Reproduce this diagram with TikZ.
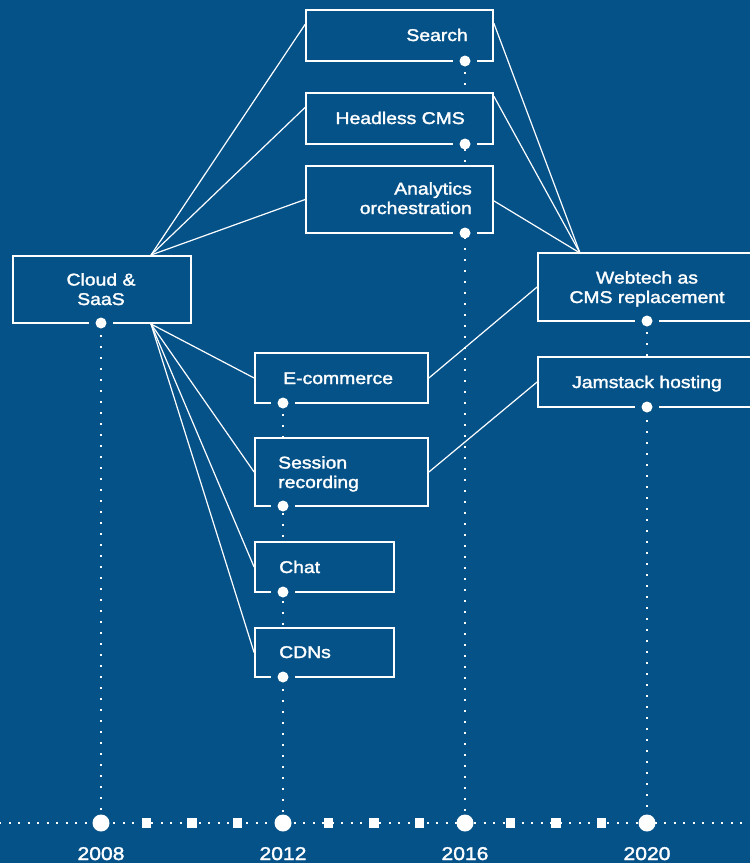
\documentclass[tikz,border=0pt]{standalone}
\usepackage{fontspec}
\setmainfont{Liberation Sans}[FakeStretch=1.14, FakeBold=1.8]
\usetikzlibrary{calc}
\definecolor{bgblue}{RGB}{5,82,137}

\tikzset{
  tbox/.style={draw=white, fill=bgblue, line width=1.8pt, inner sep=0pt},
  gapcover/.style={fill=bgblue},
  pin/.style={circle, fill=white, minimum size=11pt, inner sep=0pt},
  bigdot/.style={circle, fill=white, minimum size=17pt, inner sep=0pt},
  tsq/.style={rectangle, fill=white, minimum size=9.5pt, inner sep=0pt},
  link/.style={white, line width=1.2pt},
  vdots/.style={white, line width=2pt, dash pattern=on 2pt off 9pt},
  hdots/.style={white, line width=2pt, dash pattern=on 2pt off 7.5pt},
  label/.style={white, inner sep=0pt, font=\fontsize{17}{19.5}\selectfont},
  year/.style={white, inner sep=0pt, font=\fontsize{18.5}{20}\selectfont}
}

% box: name, x1, y1, x2, y2, pin x  (the bottom edge is broken around the pin)
\newcommand\tlbox[6]{%
  \node[tbox, minimum width={#4-#2}, minimum height={#5-#3}] (#1) at ({(#2+#4)/2},{(#3+#5)/2}) {};
  \fill[gapcover] ({#6-12},{#5-2}) rectangle ({#6+12},{#5+2});
  \node[pin] (#1pin) at (#6,#5) {};
}

\begin{document}
\begin{tikzpicture}[x=1pt, y=-1pt]
  \useasboundingbox (0,0) rectangle (750,863);
  \clip (0,0) rectangle (750,863);
  \fill[bgblue] (0,0) rectangle (750,863);

  % timeline markers
  \draw[hdots] (-1,823) -- (751,823);
  \node[bigdot] (t2008) at (101,823) {};
  \node[bigdot] (t2012) at (283,823) {};
  \node[bigdot] (t2016) at (465,823) {};
  \node[bigdot] (t2020) at (647,823) {};
  \foreach \k in {1,2,3} {
    \node[tsq] (qa\k) at ({101+\k*45.5},823) {};
    \node[tsq] (qb\k) at ({283+\k*45.5},823) {};
    \node[tsq] (qc\k) at ({465+\k*45.5},823) {};
  }

  % hubs where the links meet
  \coordinate (hubtop) at (151,255);
  \coordinate (hubbot) at (151,324);
  \coordinate (hubright) at (580,253);

  % vertical guides from each column down to its year
  \draw[vdots] (101,324) -- (t2008);
  \draw[vdots] (283,403) -- (t2012);
  \draw[vdots] (465,61) -- (t2016);
  \draw[vdots] (647,321) -- (t2020);

  % boxes
  \tlbox{search}{306}{10}{493}{61}{465}
  \tlbox{headless}{306}{93}{493}{144}{465}
  \tlbox{analytics}{306}{166}{493}{233}{465}
  \tlbox{cloud}{13}{256}{191}{323}{101}
  \tlbox{webtech}{538}{253}{753}{321}{647}
  \tlbox{jamstack}{538}{357}{753}{407}{647}
  \tlbox{ecom}{255}{353}{428}{403}{283}
  \tlbox{session}{255}{438}{428}{506}{283}
  \tlbox{chat}{255}{542}{394}{592}{283}
  \tlbox{cdns}{255}{628}{394}{677}{283}

  % links
  \draw[link] (hubtop) -- ($(search.north west)!0.29!(search.south west)$);
  \draw[link] (hubtop) -- ($(headless.north west)!0.29!(headless.south west)$);
  \draw[link] (hubtop) -- (analytics.west);
  \draw[link] (hubbot) -- (ecom.west);
  \draw[link] (hubbot) -- (session.west);
  \draw[link] (hubbot) -- (chat.west);
  \draw[link] (hubbot) -- (cdns.west);
  \draw[link] ($(search.north east)!0.27!(search.south east)$) -- (hubright);
  \draw[link] ($(headless.north east)!0.08!(headless.south east)$) -- (hubright);
  \draw[link] ($(analytics.north east)!0.52!(analytics.south east)$) -- (hubright);
  \draw[link] (ecom.east) -- (webtech.west);
  \draw[link] (session.east) -- (jamstack.west);

  % labels (multi-line labels are anchored on the baseline of their last line)
  \node[label, anchor=base east] (searchtxt) at (468,41) {Search};
  \node[label, anchor=base east] (headlesstxt) at (465,124) {Headless CMS};
  \node[label, anchor=base east, align=right] (analyticstxt) at (472,214) {Analytics\\orchestration};
  \node[label, anchor=base, align=center] (cloudtxt) at (101,305) {Cloud \&\\SaaS};
  \node[label, anchor=base, align=center] (webtechtxt) at (647,303) {Webtech as\\CMS replacement};
  \node[label, anchor=base] (jamstacktxt) at (647,388) {Jamstack hosting};
  \node[label, anchor=base west] (ecomtxt) at (283,384) {E-commerce};
  \node[label, anchor=base west, align=left] (sessiontxt) at (278,488) {Session\\recording};
  \node[label, anchor=base west] (chattxt) at (279,573) {Chat};
  \node[label, anchor=base west] (cdnstxt) at (279,658) {CDNs};

  % years
  \node[year, anchor=base] (y2008) at (101,860) {2008};
  \node[year, anchor=base] (y2012) at (283,860) {2012};
  \node[year, anchor=base] (y2016) at (465,860) {2016};
  \node[year, anchor=base] (y2020) at (647,860) {2020};
\end{tikzpicture}
\end{document}
